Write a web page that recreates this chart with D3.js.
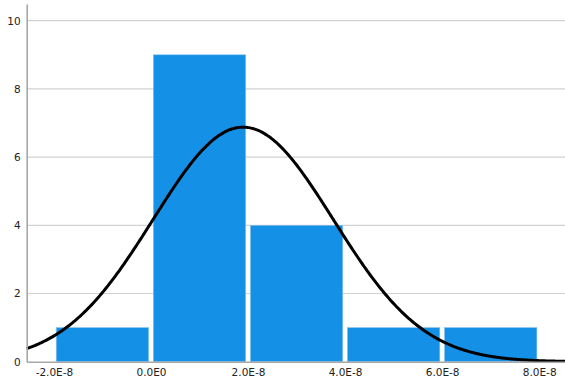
<!DOCTYPE html>
<html>
<head>
<meta charset="utf-8">
<script src="https://cdn.jsdelivr.net/npm/d3@7"></script>
<style>
  body { margin: 0; background: #fff; }
  svg text { font-family: "DejaVu Sans", sans-serif; font-size: 10.5px; fill: #222; }
</style>
</head>
<body>
<svg id="chart"></svg>
<script>
// histogram bins (lower edges) and counts
const binStarts = [-2e-8, 0, 2e-8, 4e-8, 6e-8];
const binWidth = 2e-8;
const counts = [1, 9, 4, 1, 1];
const xTicks = [-2e-8, 0, 2e-8, 4e-8, 6e-8, 8e-8];
const xTickLabels = ["-2.0E-8", "0.0E0", "2.0E-8", "4.0E-8", "6.0E-8", "8.0E-8"];
const yTicks = [0, 2, 4, 6, 8, 10];
// fitted normal curve parameters
const curveMean = 1.9e-8;
const curveSd = 1.856e-8;
const curveN = 16;

const width = 565, height = 383;
const margin = {top: 4, right: 0, bottom: 21.3, left: 26.7};

const svg = d3.select("#chart").attr("width", width).attr("height", height);

const x = d3.scaleLinear()
    .domain([-2.561e-8, 8.532e-8])
    .range([margin.left, width - margin.right]);
const y = d3.scaleLinear()
    .domain([0, 10.49])
    .range([height - margin.bottom, margin.top]);

// gridlines
svg.append("g")
    .selectAll("line")
    .data(yTicks.filter(d => d > 0))
    .join("line")
    .attr("x1", margin.left)
    .attr("x2", width - margin.right)
    .attr("y1", d => y(d))
    .attr("y2", d => y(d))
    .attr("stroke", "#d2d2d2")
    .attr("stroke-width", 1.2);

// bars
const bars = binStarts.map((s, i) => ({x0: s, x1: s + binWidth, n: counts[i]}));
svg.append("g")
    .selectAll("rect")
    .data(bars)
    .join("rect")
    .attr("x", d => x(d.x0) + 2.3)
    .attr("width", d => x(d.x1) - x(d.x0) - 4.6)
    .attr("y", d => y(d.n))
    .attr("height", d => y(0) - y(d.n))
    .attr("fill", "#1490e6")
    .attr("stroke", "#8cc4f0")
    .attr("stroke-width", 0.6);

// normal curve
const pdf = v => curveN * binWidth / (curveSd * Math.sqrt(2 * Math.PI))
    * Math.exp(-0.5 * ((v - curveMean) / curveSd) ** 2);
const xs = d3.range(0, 401).map(i => x.domain()[0] + i / 400 * (x.domain()[1] - x.domain()[0]));
svg.append("path")
    .datum(xs)
    .attr("fill", "none")
    .attr("stroke", "#000")
    .attr("stroke-width", 3)
    .attr("d", d3.line().x(d => x(d)).y(d => y(pdf(d))).curve(d3.curveBasis));

// axes
const xAxis = svg.append("g")
    .attr("transform", `translate(0,${y(0)})`)
    .call(d3.axisBottom(x).tickValues(xTicks).tickSize(0).tickPadding(7)
        .tickFormat((d, i) => xTickLabels[i]));
xAxis.select(".domain").attr("stroke", "#a8a8a8").attr("stroke-width", 1.6);
xAxis.selectAll("text").style("font-size", "10.5px");

const yAxis = svg.append("g")
    .attr("transform", `translate(${margin.left},0)`)
    .call(d3.axisLeft(y).tickValues(yTicks).tickSize(0).tickPadding(6));
yAxis.select(".domain").attr("stroke", "#a8a8a8").attr("stroke-width", 1.6);
yAxis.selectAll("text").style("font-size", "10.5px");
</script>
</body>
</html>
